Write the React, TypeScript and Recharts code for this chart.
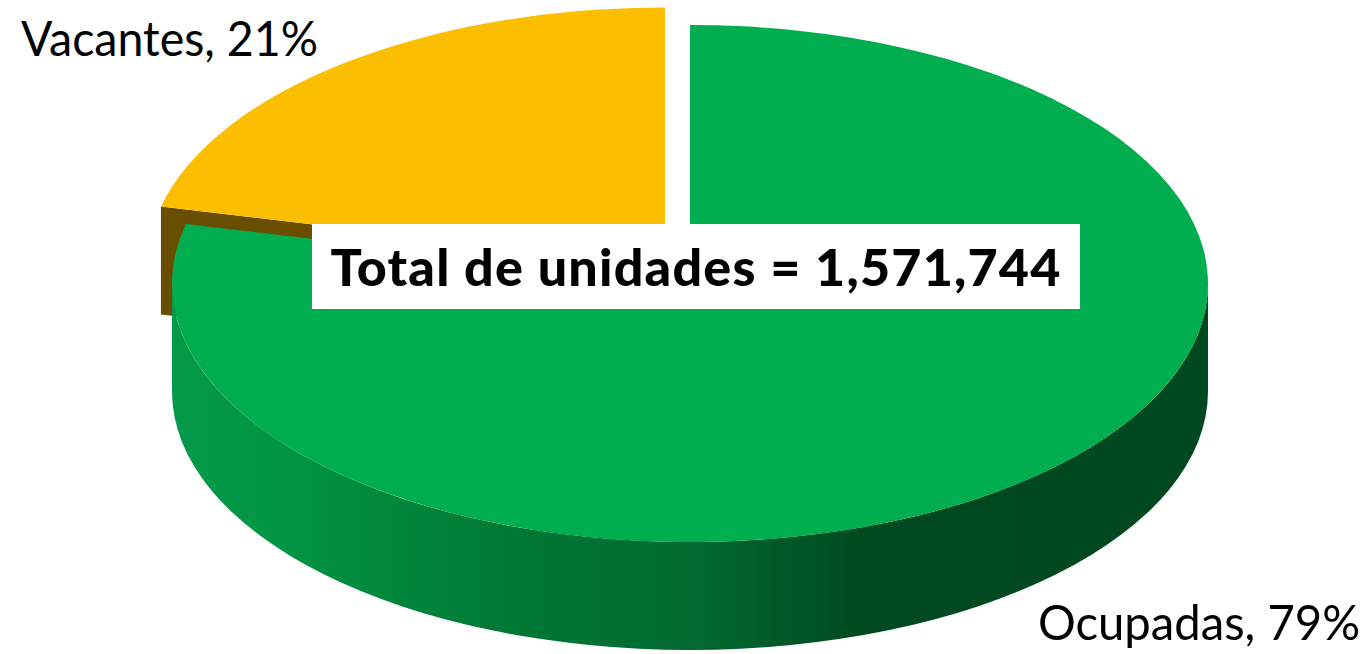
import React from 'react';
import { PieChart, Pie } from 'recharts';

const categories = ['Vacantes', 'Ocupadas'];
const shares = [21.3, 78.7];
const colors = ['#FBBE00', '#00AE50'];
const sideColors = ['#6A4E00', 'url(#greenWall)'];
const totalText = 'Total de unidades = 1,571,744';

const chartData = categories.map((name, i) => ({ name, value: shares[i], fill: colors[i], side: sideColors[i] }));

const WIDTH = 1371;
const HEIGHT = 654;
const CX = 690;
const CY = 283.5;
const RX = 518;
const SQUASH = 258.5 / 518;
const DEPTH = 108;
const FONT = 'Lato, "Open Sans", sans-serif';

const wallStops = [
  [0, '#049A49'],
  [0.1, '#029545'],
  [0.19, '#008A3E'],
  [0.315, '#007A36'],
  [0.51, '#00692F'],
  [0.665, '#004A20'],
  [1, '#004820'],
];

const rad = (deg: number) => (deg * Math.PI) / 180;

// Pie sector squashed to an ellipse, with an extruded wall below it
const TiltedSector = (props: any) => {
  const { cx, cy, outerRadius, startAngle, endAngle, payload, fill } = props;
  const isVacant = payload.name === 'Vacantes';
  const ox = isVacant ? -25 : 0;
  const oy = isVacant ? -17.5 : 0;
  const rx = outerRadius;
  const ry = outerRadius * SQUASH;
  const hubX = cx + ox;
  const hubY = cy + oy;
  const pt = (a: number) => [hubX + rx * Math.cos(rad(a)), hubY - ry * Math.sin(rad(a))];
  const [sx, sy] = pt(startAngle);
  const [ex, ey] = pt(endAngle);
  const large = endAngle - startAngle > 180 ? 1 : 0;
  const top = `M${hubX},${hubY} L${sx},${sy} A${rx},${ry} 0 ${large} 0 ${ex},${ey} Z`;

  let wall = '';
  if (isVacant) {
    // cut face along the seam
    wall = `M${hubX},${hubY} L${ex},${ey} L${ex},${ey + DEPTH} L${hubX},${hubY + DEPTH} Z`;
  } else {
    const [lx, ly] = pt(180);
    const [rxx, ryy] = pt(360);
    wall = `M${lx},${ly} A${rx},${ry} 0 0 0 ${rxx},${ryy} L${rxx},${ryy + DEPTH} A${rx},${ry} 0 0 1 ${lx},${ly + DEPTH} Z`;
  }

  return (
    <g>
      <defs>
        <linearGradient id="greenWall" gradientUnits="userSpaceOnUse" x1={cx - rx} y1={0} x2={cx + rx} y2={0}>
          {wallStops.map(([o, c]) => (
            <stop key={String(o)} offset={o as number} stopColor={c as string} />
          ))}
        </linearGradient>
      </defs>
      <path d={wall} fill={payload.side} stroke="none" />
      <path d={top} fill={fill} stroke="none" />
    </g>
  );
};

const SliceLabel = (props: any) => {
  const { name, value } = props;
  const isVacant = name === 'Vacantes';
  return (
    <text
      x={isVacant ? 21 : 1038}
      y={isVacant ? 56 : 640}
      fontFamily={FONT}
      fontSize={49}
      fill="#000"
      textLength={isVacant ? 297 : 322}
      lengthAdjust="spacingAndGlyphs"
    >
      {`${name}, ${Math.round(value)}%`}
    </text>
  );
};

export default function App() {
  return (
    <div style={{ position: 'absolute', left: 0, top: 0, width: WIDTH, height: HEIGHT, background: '#fff' }}>
      <PieChart width={WIDTH} height={HEIGHT} margin={{ top: 0, right: 0, bottom: 0, left: 0 }}>
        <Pie
          data={chartData}
          dataKey="value"
          nameKey="name"
          cx={CX}
          cy={CY}
          outerRadius={RX}
          innerRadius={0}
          startAngle={90}
          endAngle={450}
          stroke="none"
          shape={TiltedSector}
          label={SliceLabel}
          labelLine={false}
          isAnimationActive={false}
        />
      </PieChart>
      <div
        style={{
          position: 'absolute',
          left: 312,
          top: 224,
          width: 768,
          height: 85,
          background: '#fff',
          color: '#000',
          fontFamily: FONT,
          fontWeight: 900,
          fontSize: 52,
          letterSpacing: 1.2,
          lineHeight: '85px',
          textAlign: 'center',
          whiteSpace: 'nowrap',
        }}
      >
        {totalText}
      </div>
    </div>
  );
}
